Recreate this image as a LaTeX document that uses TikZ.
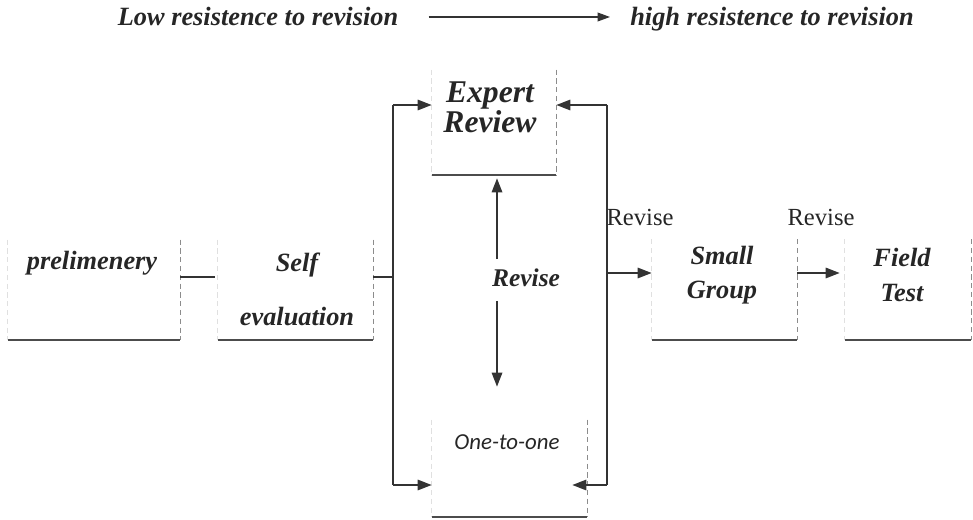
\documentclass[tikz,border=0pt]{standalone}
\usepackage{fontspec}
\setmainfont{Liberation Serif}
\newfontfamily\onefont{Carlito}
\usetikzlibrary{arrows.meta}

\begin{document}
\begin{tikzpicture}[
    boxbottom/.style = {draw = black!70, line width = 1.3pt},
    boxright/.style = {draw = black!45, line width = 0.5pt, densely dashed},
    boxleft/.style = {draw = black!12, line width = 0.5pt, densely dashed},
    stagebox/.style = {minimum height = 2cm, inner sep = 0pt, append after command = {
        (\tikzlastnode.south west) edge[boxbottom] (\tikzlastnode.south east)
        (\tikzlastnode.north east) edge[boxright] (\tikzlastnode.south east)
        (\tikzlastnode.north west) edge[boxleft] (\tikzlastnode.south west)}},
    stagetext/.style = {font = \fontsize{15}{18}\selectfont\bfseries\itshape, text = black!85, align = center, inner sep = 0pt},
    revtext/.style = {font = \fontsize{14}{16}\selectfont, text = black!85, inner sep = 0pt},
    wire/.style = {draw = black!80, line width = 0.9pt},
    flow/.style = {wire, -{Triangle[length = 8pt, width = 6pt]}}
]
    \useasboundingbox (0, 0) rectangle (19.46, -10.40);

    \node[stagetext, anchor = base] (low) at (5.16, -0.52) {Low resistence to revision};
    \node[stagetext, anchor = base] (high) at (15.44, -0.52) {high resistence to revision};
    \coordinate (topline) at (0, -0.34);
    \draw[flow, line width = 0.6pt, -{Triangle[length = 7pt, width = 5pt]}, shorten <= 0.6cm, shorten >= 0.4cm] (low.east |- topline) -- (high.west |- topline);

    \node[stagebox, minimum width = 3.44cm] (pre) at (1.88, -5.80) {};
    \node[stagebox, minimum width = 3.10cm] (self) at (5.91, -5.80) {};
    \node[stagebox, minimum width = 2.48cm, minimum height = 2.10cm] (expert) at (9.88, -2.45) {};
    \node[stagebox, minimum width = 3.10cm, minimum height = 1.94cm] (one) at (10.19, -9.37) {};
    \node[stagebox, minimum width = 2.90cm] (small) at (14.49, -5.79) {};
    \node[stagebox, minimum width = 2.52cm] (field) at (18.16, -5.79) {};

    \node[stagetext] (pretext) at (1.84, -5.26) {prelimenery};
    \node[stagetext, font = \fontsize{15}{31}\selectfont\bfseries\itshape] (selftext) at (5.94, -5.79) {Self\\evaluation};
    \node[stagetext, font = \fontsize{18}{17}\selectfont\bfseries\itshape] (experttext) at (9.80, -2.14) {Expert\\Review};
    \node[stagetext, font = \fontsize{13}{15}\selectfont\onefont\itshape] (onetext) at (10.14, -8.84) {One-to-one};
    \node[stagetext, font = \fontsize{15}{19.5}\selectfont\bfseries\itshape] (smalltext) at (14.44, -5.50) {Small\\Group};
    \node[stagetext, font = \fontsize{15}{19.5}\selectfont\bfseries\itshape] (fieldtext) at (18.04, -5.50) {Field\\Test};

    \node[stagetext, font = \fontsize{14.5}{17}\selectfont\bfseries\itshape] (rv) at (10.52, -5.56) {Revise};
    \node[revtext] (rvsmall) at (12.80, -4.34) {Revise};
    \node[revtext] (rvfield) at (16.42, -4.34) {Revise};

    \coordinate (lt) at (7.86, -2.10);
    \coordinate (lb) at (7.86, -9.70);
    \coordinate (rt) at (12.14, -2.10);
    \coordinate (rb) at (12.14, -9.70);
    \coordinate (rm) at (12.14, -5.46);
    \coordinate (rvx) at (9.94, 0);
    \coordinate (preout) at ([yshift = 0.26cm]pre.east);
    \coordinate (selfout) at ([yshift = 0.26cm]self.east);
    \coordinate (smallout) at ([yshift = 0.33cm]small.east);

    \draw[wire, shorten >= 0.06cm] (preout) -- (preout -| self.west);
    \draw[wire] (selfout) -- (selfout -| lt);
    \draw[wire] (lt) -- (lb);
    \draw[flow] (lt) -- (lt -| expert.west);
    \draw[flow] (lb) -- (lb -| one.west);

    \draw[wire] (rt) -- (rb);
    \draw[flow] (rt) -- (rt -| expert.east);
    \draw[flow, shorten >= -0.3cm] (rb) -- (rb -| one.east);
    \draw[flow] (rm) -- (rm -| small.west);
    \draw[flow, shorten >= 0.1cm] (smallout) -- (smallout -| field.west);

    \draw[flow, shorten <= 0.19cm, shorten >= 0.06cm] (rv.north -| rvx) -- (expert.south -| rvx);
    \draw[flow, shorten <= 0.27cm, shorten >= 0.66cm] (rv.south -| rvx) -- (one.north -| rvx);
\end{tikzpicture}
\end{document}
